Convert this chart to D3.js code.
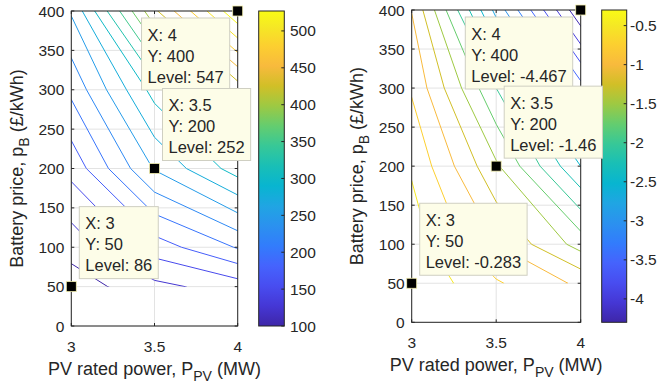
<!DOCTYPE html>
<html>
<head>
<meta charset="utf-8">
<script src="https://cdn.jsdelivr.net/npm/d3@7"></script>
<style>
  body { margin: 0; background: #fff; }
  text { font-family: "Liberation Sans", Arial, Helvetica, sans-serif; fill: #262626; }
</style>
</head>
<body>
<svg id="chart" width="658" height="389"></svg>
<script>
// sample grid (columns = PV rated power, rows = battery price)
const pvPower = [3, 3.5, 4];
const batteryPrice = [50, 100, 200, 300, 400];

// left surface
const costGrid = [
  [86, 118, 137],
  [110, 162, 202],
  [158, 252, 312],
  [206, 310, 410],
  [253, 420, 547]
];
// right surface
const ratioGrid = [
  [-0.283, -0.72, -1.05],
  [-0.37, -1.0, -1.6],
  [-0.53, -1.46, -2.5],
  [-0.78, -2.0, -3.4],
  [-1.01, -2.83, -4.467]
];

const costLevels = [100, 125, 150, 175, 200, 225, 250, 275, 300, 325, 350, 375, 400, 425, 450, 475, 500, 525];
const ratioLevels = [-4.25, -4, -3.75, -3.5, -3.25, -3, -2.75, -2.5, -2.25, -2, -1.75, -1.5, -1.25, -1, -0.75, -0.5];

const xTicks = [3, 3.5, 4];
const yTicks = [0, 50, 100, 150, 200, 250, 300, 350, 400];
const costBarTicks = [100, 150, 200, 250, 300, 350, 400, 450, 500];
const ratioBarTicks = [-4, -3.5, -3, -2.5, -2, -1.5, -1, -0.5];

// data tips: [PV power, battery price]
const tipPoints = [[4, 400], [3.5, 200], [3, 50]];

// parula colormap
const parula = [
  [0.2422, 0.1504, 0.6603], [0.2706, 0.2147, 0.8364], [0.2813, 0.3006, 0.9414],
  [0.2699, 0.3892, 0.9906], [0.1963, 0.4847, 0.9892], [0.1687, 0.5703, 0.9359],
  [0.1248, 0.6459, 0.8883], [0.0297, 0.7082, 0.8163], [0.0964, 0.7500, 0.7120],
  [0.2161, 0.7843, 0.5923], [0.3909, 0.8029, 0.4354], [0.6174, 0.7876, 0.2612],
  [0.8203, 0.7498, 0.1535], [0.9728, 0.7298, 0.2394], [0.9892, 0.8136, 0.1885],
  [0.9597, 0.9135, 0.1423], [0.9769, 0.9839, 0.0805]
];
const parulaPos = parula.map((d, i) => Math.min(i * 4, 63) / 63);
const parulaCss = parula.map(c => d3.rgb(c[0] * 255, c[1] * 255, c[2] * 255).formatHex());
const parulaScale = d3.scaleLinear().domain(parulaPos).range(parulaCss).interpolate(d3.interpolateRgb).clamp(true);

const panels = [
  {
    grid: costGrid, levels: costLevels, clim: [100, 527], barTicks: costBarTicks,
    plot: { l: 71.3, r: 237.7, t: 11, b: 326 }, bar: { l: 258.7, r: 284.3 },
    ylabX: 23, xlabY: 375, barLabX: 290,
    tipSide: ['ll', 'ur', 'ur']
  },
  {
    grid: ratioGrid, levels: ratioLevels, clim: [-4.30, -0.30], barTicks: ratioBarTicks,
    plot: { l: 411.7, r: 580.7, t: 10, b: 322.3 }, bar: { l: 601.7, r: 626.7 },
    ylabX: 363, xlabY: 371, barLabX: 630,
    tipSide: ['ll', 'ur', 'ur']
  }
];

const svg = d3.select('#chart');
svg.append('rect').attr('width', 658).attr('height', 389).attr('fill', '#fff');
const defs = svg.append('defs');

const axisColor = '#262626';
const tickFont = 15.5;
const labelFont = 18;
const tipFont = 16.5;
const tickLen = 3;

const fmtTip = v => String(+(+v).toPrecision(4));

panels.forEach((p, k) => {
  const g = svg.append('g');
  const x = d3.scaleLinear().domain([3, 4]).range([p.plot.l, p.plot.r]);
  const y = d3.scaleLinear().domain([0, 400]).range([p.plot.b, p.plot.t]);
  const color = d3.scaleLinear().domain(p.clim).range([0, 1]).clamp(true);
  const colorOf = v => parulaScale(color(v));

  // grid index -> data value
  const ix = d3.scaleLinear().domain(d3.range(pvPower.length)).range(pvPower);
  const iy = d3.scaleLinear().domain(d3.range(batteryPrice.length)).range(batteryPrice);

  // grid lines
  g.append('g').selectAll('line').data(xTicks).join('line')
    .attr('x1', d => x(d)).attr('x2', d => x(d))
    .attr('y1', p.plot.t).attr('y2', p.plot.b)
    .attr('stroke', '#e3e3e3').attr('stroke-width', 1);
  g.append('g').selectAll('line').data(yTicks).join('line')
    .attr('x1', p.plot.l).attr('x2', p.plot.r)
    .attr('y1', d => y(d)).attr('y2', d => y(d))
    .attr('stroke', '#e3e3e3').attr('stroke-width', 1);

  // contours, clipped to the sampled area
  const clipId = 'clip' + k;
  defs.append('clipPath').attr('id', clipId).append('rect')
    .attr('x', x(pvPower[0])).attr('y', y(batteryPrice[batteryPrice.length - 1]))
    .attr('width', x(pvPower[pvPower.length - 1]) - x(pvPower[0]))
    .attr('height', y(batteryPrice[0]) - y(batteryPrice[batteryPrice.length - 1]));

  const values = p.grid.flat();
  const contours = d3.contours()
    .size([pvPower.length, batteryPrice.length])
    .thresholds(p.levels)(values);

  const ring = d3.line()
    .x(c => x(ix(c[0] - 0.5)))
    .y(c => y(iy(c[1] - 0.5)));

  g.append('g').attr('clip-path', `url(#${clipId})`)
    .selectAll('path').data(contours).join('path')
    .attr('d', c => c.coordinates.map(poly => poly.map(r => ring(r) + 'Z').join('')).join(''))
    .attr('fill', 'none')
    .attr('stroke', c => colorOf(c.value))
    .attr('stroke-width', 1);

  // axes box and ticks
  g.append('rect')
    .attr('x', p.plot.l).attr('y', p.plot.t)
    .attr('width', p.plot.r - p.plot.l).attr('height', p.plot.b - p.plot.t)
    .attr('fill', 'none').attr('stroke', axisColor).attr('stroke-width', 1);

  const ticks = g.append('g').attr('stroke', axisColor).attr('stroke-width', 1);
  xTicks.forEach(t => {
    ticks.append('line').attr('x1', x(t)).attr('x2', x(t)).attr('y1', p.plot.b).attr('y2', p.plot.b - tickLen);
    ticks.append('line').attr('x1', x(t)).attr('x2', x(t)).attr('y1', p.plot.t).attr('y2', p.plot.t + tickLen);
  });
  yTicks.forEach(t => {
    ticks.append('line').attr('x1', p.plot.l).attr('x2', p.plot.l + tickLen).attr('y1', y(t)).attr('y2', y(t));
    ticks.append('line').attr('x1', p.plot.r).attr('x2', p.plot.r - tickLen).attr('y1', y(t)).attr('y2', y(t));
  });

  g.append('g').selectAll('text').data(xTicks).join('text')
    .attr('x', d => x(d)).attr('y', p.plot.b + 26)
    .attr('text-anchor', 'middle').attr('font-size', tickFont)
    .text(d => d);
  g.append('g').selectAll('text').data(yTicks).join('text')
    .attr('x', p.plot.l - 7).attr('y', d => y(d)).attr('dy', '0.36em')
    .attr('text-anchor', 'end').attr('font-size', tickFont)
    .text(d => d);

  // axis labels
  const xl = g.append('text')
    .attr('x', (p.plot.l + p.plot.r) / 2).attr('y', p.xlabY)
    .attr('text-anchor', 'middle').attr('font-size', labelFont);
  xl.append('tspan').text('PV rated power, P');
  xl.append('tspan').attr('font-size', labelFont * 0.78).attr('dy', 6).text('PV');
  xl.append('tspan').attr('dy', -6).text(' (MW)');

  const yl = g.append('text')
    .attr('transform', `translate(${p.ylabX},${(p.plot.t + p.plot.b) / 2}) rotate(-90)`)
    .attr('text-anchor', 'middle').attr('font-size', labelFont);
  yl.append('tspan').text('Battery price, p');
  yl.append('tspan').attr('font-size', labelFont * 0.78).attr('dy', 6).text('B');
  yl.append('tspan').attr('dy', -6).text(' (£/kWh)');

  // colorbar
  const gradId = 'grad' + k;
  const grad = defs.append('linearGradient').attr('id', gradId)
    .attr('x1', 0).attr('y1', 1).attr('x2', 0).attr('y2', 0);
  parulaCss.forEach((c, i) => grad.append('stop').attr('offset', parulaPos[i]).attr('stop-color', c));

  const cb = d3.scaleLinear().domain(p.clim).range([p.plot.b, p.plot.t]);
  g.append('rect')
    .attr('x', p.bar.l).attr('y', p.plot.t)
    .attr('width', p.bar.r - p.bar.l).attr('height', p.plot.b - p.plot.t)
    .attr('fill', `url(#${gradId})`).attr('stroke', axisColor).attr('stroke-width', 1);
  g.append('g').selectAll('line').data(p.barTicks).join('line')
    .attr('x1', p.bar.r).attr('x2', p.bar.r - tickLen)
    .attr('y1', d => cb(d)).attr('y2', d => cb(d))
    .attr('stroke', axisColor);
  g.append('g').selectAll('text').data(p.barTicks).join('text')
    .attr('x', p.barLabX).attr('y', d => cb(d)).attr('dy', '0.36em')
    .attr('font-size', tickFont)
    .text(d => d);

  // data tips
  tipPoints.forEach((pt, i) => {
    const col = pvPower.indexOf(pt[0]);
    const row = batteryPrice.indexOf(pt[1]);
    const lines = ['X: ' + pt[0], 'Y: ' + pt[1], 'Level: ' + fmtTip(p.grid[row][col])];
    const mx = x(pt[0]), my = y(pt[1]);
    const tg = g.append('g');
    const box = tg.append('rect').attr('fill', '#fdfde8').attr('stroke', '#cfcfc2').attr('stroke-width', 1);
    const txt = tg.selectAll('text').data(lines).join('text')
      .attr('font-size', tipFont).attr('fill', '#111').text(d => d);
    const w = d3.max(txt.nodes(), n => n.getComputedTextLength()) + 12;
    const h = 72;
    let bx, by;
    if (p.tipSide[i] === 'll') { bx = mx - 8 - w; by = my + 7; }
    else { bx = mx + 8; by = my - 8 - h; }
    box.attr('x', bx).attr('y', by).attr('width', w).attr('height', h);
    txt.attr('x', bx + 6).attr('y', (d, j) => by + 22.5 + j * 21);
    tg.append('rect')
      .attr('x', mx - 5).attr('y', my - 5).attr('width', 10).attr('height', 10)
      .attr('fill', '#000').attr('stroke', '#f4f0b0').attr('stroke-width', 0.8);
  });
});
</script>
</body>
</html>
